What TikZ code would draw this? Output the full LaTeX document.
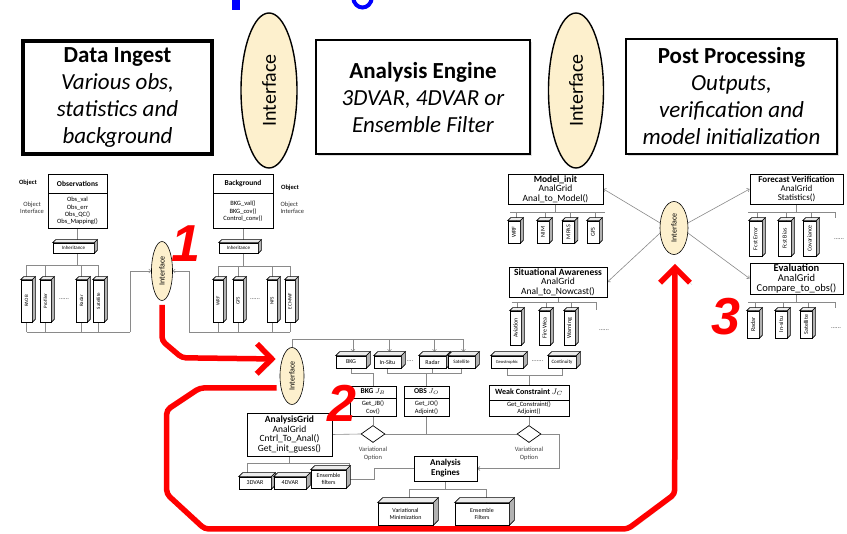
\documentclass[tikz,border=0pt]{standalone}
\usepackage{fontspec}
\setmainfont{Carlito}
\newfontfamily\numfont{Liberation Sans}
\usetikzlibrary{arrows.meta,positioning,shapes.geometric,backgrounds,calc,shadows}

\definecolor{cream}{HTML}{FDF0CD}
\definecolor{wire}{HTML}{8A8A8A}
\definecolor{hot}{HTML}{FF0000}

\newcommand{\pxfont}[2]{\fontsize{#1}{#2}\selectfont}

% 3d box: [depth]{name}{centre}{width}{height}{text}
\newcommand{\slab}[6][3]{%
  \node[slabface, minimum width=#4, minimum height=#5] (#2) at (#3) {#6};
  \filldraw[slabtop] (#2.north west) -- ++(#1pt,#1pt) -- ([shift={(#1pt,#1pt)}]#2.north east) -- (#2.north east) -- cycle;
  \filldraw[slabside] (#2.north east) -- ++(#1pt,#1pt) -- ([shift={(#1pt,#1pt)}]#2.south east) -- (#2.south east) -- cycle;
}

\begin{document}
\begin{tikzpicture}[x=1pt, y=-1pt,
    stage/.style={rectangle, draw, fill=white, line width=2pt, align=center, font=\pxfont{23}{27},
      drop shadow={opacity=0.25, shadow xshift=2pt, shadow yshift=-2pt}},
    gate/.style={ellipse, draw, fill=cream, inner sep=0pt, line width=1.4pt, font=\pxfont{20}{20}},
    port/.style={ellipse, draw, fill=cream, inner sep=0pt, line width=0.6pt, font=\pxfont{8}{9}},
    head/.style={rectangle, draw, fill=white, line width=0.7pt, inner sep=1pt, font=\bfseries\pxfont{7.5}{8}},
    body/.style={rectangle, draw, fill=white, line width=0.7pt, inner sep=1pt, align=center, font=\pxfont{6.5}{7.3}},
    card/.style={rectangle, draw, fill=white, line width=0.8pt, inner sep=0.5pt, align=center, font=\pxfont{9.5}{9.4}},
    slabface/.style={rectangle, draw, fill=white, line width=0.6pt, inner sep=0pt, align=center, font=\pxfont{6}{6.5}},
    slabtop/.style={fill=gray!15, draw, line width=0.6pt},
    slabside/.style={fill=gray!60, draw, line width=0.6pt},
    choice/.style={diamond, draw, fill=white, line width=0.7pt, inner sep=0pt, minimum width=24, minimum height=17},
    note/.style={font=\pxfont{6.5}{7.3}, align=center, text=black!75},
    link/.style={draw=wire, line width=0.6pt},
    feed/.style={link, -{Straight Barb[length=2pt,width=4pt]}},
    redline/.style={draw=hot, line width=5.5pt, rounded corners=4pt, -{Straight Barb[length=15pt,width=30pt]},
      preaction={draw=black, opacity=0.15, transform canvas={shift={(2pt,-2pt)}}}},
    tag/.style={text=hot, inner sep=0pt, font=\numfont\bfseries\itshape\pxfont{52}{52}},
  ]
\path[use as bounding box] (0,0) rectangle (847,534);
\begin{scope}[on background layer]
  \fill[white] (0,0) rectangle (847,534);
\end{scope}

% cut title
\fill[blue] (232,0) rectangle (240,10);
\draw[blue, line width=4pt] (353,-3) .. controls (354,11) and (371,11) .. (372,-3);

% three stages and the interfaces between them
\node[stage, line width=4pt, minimum width=189, minimum height=113] (ingest) at (117.5,97.5)
  {\textbf{Data Ingest}\\\textit{Various obs,}\\\textit{statistics and}\\\textit{background}};
\node[stage, minimum width=214, minimum height=114] (engine) at (423,97.5)
  {\textbf{Analysis Engine}\\\textit{3DVAR, 4DVAR or}\\\textit{Ensemble Filter}};
\node[stage, minimum width=211, minimum height=115] (post) at (731.5,96.5)
  {\textbf{Post Processing}\\\textit{Outputs,}\\\textit{verification and}\\\textit{model initialization}};
\node[gate, minimum width=56, minimum height=155] (gateA) at (269,90.5) {\rotatebox{90}{Interface}};
\node[gate, minimum width=55, minimum height=155] (gateB) at (576,90.5) {\rotatebox{90}{Interface}};

% observations
\node[head, minimum width=59, minimum height=19] (obs) at (77.5,183.5) {Observations};
\node[body, minimum width=59, minimum height=35, below=0pt of obs] (obsops) {Obs\_val\\Obs\_err\\Obs\_QC()\\Obs\_Mapping()};
\node[note, text=black, font=\bfseries\pxfont{6.5}{7}] (objA) at (28,183) {Object};
\node[note, text=black!80] (objB) at (32,208) {Object\\Interface};
\begin{scope}[slabface/.append style={font=\pxfont{5}{6}}]
\slab{inhA}{73.5,248}{41}{10}{Inheritance}
\slab{raob}{26.5,301}{11}{42}{\rotatebox{90}{RAOB}}
\slab{prof}{45.5,301}{11}{42}{\rotatebox{90}{Profiler}}
\slab{radA}{81.5,301}{11}{42}{\rotatebox{90}{Radar}}
\slab{satA}{98.5,301}{11}{42}{\rotatebox{90}{Satellite}}
\end{scope}
\node[note] (dotsA) at (64,299) {......};

% background
\node[head, minimum width=60, minimum height=19] (bkg) at (243,183.5) {Background};
\node[body, minimum width=60, minimum height=35, below=0pt of bkg] (bkgops) {BKG\_val()\\BKG\_cov()\\Control\_conv()};
\node[note, text=black, font=\bfseries\pxfont{6.5}{7}] (objC) at (290,188) {Object};
\node[note, text=black!80, anchor=west, align=left] (objD) at (277,208) {Object\\Interface};
\begin{scope}[slabface/.append style={font=\pxfont{5}{6}}]
\slab{inhB}{238.5,248}{39}{10}{Inheritance}
\slab{wrfA}{218,301}{10}{42}{\rotatebox{90}{WRF}}
\slab{gfsA}{238,301}{10}{42}{\rotatebox{90}{GFS}}
\slab{nfs}{272,301}{10}{42}{\rotatebox{90}{NFS}}
\slab{ecm}{290,301}{10}{42}{\rotatebox{90}{ECMWF}}
\end{scope}
\node[note] (dotsB) at (255,299) {......};

\node[port, minimum width=21, minimum height=59] (portA) at (162,271) {\rotatebox{90}{Interface}};

\begin{scope}[on background layer]
  \draw[link] (obsops.south) -- (obsops.south |- inhA.north);
  \draw[link] (inhA.south -| obsops.south) -- ++(0,12) coordinate (obar);
  \draw[link] (raob |- obar) -- (satA |- obar);
  \coordinate (obot) at (130,332);
  \foreach \c in {raob,prof,radA,satA}
    \draw[link] (\c |- obar) -- (\c |- obot);
  \draw[link] (raob |- obot) -- (obot);
  \draw[feed] (obot) |- (portA.west);

  \draw[link] (bkgops.south) -- (bkgops.south |- inhB.north);
  \draw[link] (inhB.south -| bkgops.south) -- ++(0,13) coordinate (bbar);
  \draw[link] (wrfA |- bbar) -- (ecm |- bbar);
  \coordinate (bbot) at (189,332);
  \foreach \c in {wrfA,gfsA,nfs,ecm}
    \draw[link] (\c |- bbar) -- (\c |- bbot);
  \draw[link] (bbot) -- (ecm |- bbot);
  \draw[feed] (bbot) |- (portA.east);
\end{scope}

% analysis engine
\node[port, minimum width=24, minimum height=57] (portB) at (292,376) {\rotatebox{90}{Interface}};
\slab[4]{bkgc}{351,362}{30}{12}{BKG}
\slab[4]{insitu}{387.5,362}{27}{12}{In-Situ}
\slab[4]{radc}{432.5,362}{27}{12}{Radar}
\slab[4]{satc}{461.5,362}{27}{12}{\pxfont{5}{6}Satellite}
\slab[4]{geo}{507,362}{32}{12}{\pxfont{4.5}{5}Geostrophic}
\slab[4]{cont}{562,362}{28}{12}{\pxfont{5}{6}Continuity}
\node[note] (dotsC) at (410,361) {....};
\node[note] (dotsD) at (537.5,361) {.......};

\node[head, minimum width=46, minimum height=12] (jb) at (373,392) {BKG $J_B$};
\node[body, minimum width=46, minimum height=18, below=0pt of jb] (jbops) {Get\_JB()\\Cov()};
\node[head, minimum width=45, minimum height=12] (jo) at (426.5,392) {OBS $J_O$};
\node[body, minimum width=45, minimum height=18, below=0pt of jo] (joops) {Get\_JO()\\Adjoint()};
\node[head, font=\bfseries\pxfont{8}{8.5}, minimum width=80, minimum height=15] (wc) at (529,392.5) {Weak Constraint $J_C$};
\node[body, minimum width=80, minimum height=15, below=0pt of wc] (wcops) {Get\_Constraint()\\Adjoint()};

\node[card, font=\pxfont{9.5}{9.7}, minimum width=85, minimum height=43] (grid) at (289.5,434.5)
  {\textbf{AnalysisGrid}\\AnalGrid\\Cntrl\_To\_Anal()\\Get\_init\_guess()};
\node[choice] (optA) at (373,434) {};
\node[choice] (optB) at (529,434) {};
\node[note, below=1pt of optA] (optAtxt) {Variational\\Option};
\node[note, below=1pt of optB] (optBtxt) {Variational\\Option};

\node[card, font=\bfseries\pxfont{9}{10}, minimum width=63, minimum height=25] (engines) at (445.5,468.5) {Analysis\\Engines};
\slab[4]{var3}{255,483}{32}{12}{3DVAR}
\slab[4]{var4}{290,483}{32}{12}{4DVAR}
\slab[4]{ensf}{328.5,479}{35}{18}{Ensemble\\filters}
\slab[5]{vmin}{405.5,514}{55}{22}{Variational\\Minimization}
\slab[5]{ensF}{482,514}{54}{22}{Ensemble\\Filters}

\begin{scope}[on background layer]
  \draw[link] (portB.north) |- ([shift={(2pt,16pt)}]satc.north);
  \foreach \c in {bkgc,insitu,radc,satc}
    \draw[feed] ([shift={(2pt,16pt)}]\c.north) -- ([shift={(2pt,4pt)}]\c.north);
  \draw[link] (bkgc.south) -- ++(0,5) -| (jb.north);
  \draw[link] (insitu.south) -- ++(0,5) -| (jo.north);
  \draw[link] (radc.south) -- ++(0,5);
  \draw[link] (satc.south) -- ++(0,5) -| (jo.north);
  \draw[link] (geo.south) -- ++(0,7) -| (wc.north);
  \draw[link] (cont.south) -- ++(0,7) -| (wc.north);
  \draw[link] (grid.east) -- (optA.west);
  \draw[link] (optA.east) -- (optB.west);
  \draw[link] (jbops.south) -- (optA.north);
  \draw[link] (joops.south) -- (joops.south |- optA.east);
  \draw[link] (wcops.south) -- (optB.north);
  \draw[feed] (optB.east) -- ++(18,0) |- (engines.east);
  \draw[feed] (engines.west) -- ++(-39,0) |- (ensf.east);
  \draw[link] (grid.south) -- ++(0,7) coordinate (gbar);
  \draw[link] ([xshift=-8pt]var3.north |- gbar) -- ([xshift=21pt]ensf.north |- gbar);
  \draw[link] ([xshift=-8pt]var3.north |- gbar) -- ([xshift=-8pt]var3.north);
  \draw[link] ([xshift=21pt]ensf.north |- gbar) -- ([xshift=21pt]ensf.north);
  \draw[link] (engines.south) -- ++(0,8) coordinate (ebar);
  \draw[link] ([xshift=4pt]vmin.north |- ebar) -- ([xshift=4pt]ensF.north |- ebar);
  \foreach \c in {vmin,ensF}
    \draw[link] ([xshift=4pt]\c.north |- ebar) -- ([xshift=4pt]\c.north);
\end{scope}

% post processing
\node[card, minimum width=95, minimum height=30] (minit) at (555.5,189) {\textbf{Model\_init}\\AnalGrid\\Anal\_to\_Model()};
\node[card, minimum width=98, minimum height=30] (aware) at (558,282) {\textbf{Situational Awareness}\\AnalGrid\\Anal\_to\_Nowcast()};
\node[card, font=\pxfont{9}{9.2}, minimum width=93, minimum height=30] (verif) at (796.5,189) {\textbf{Forecast Verification}\\AnalGrid\\Statistics()};
\node[card, font=\pxfont{10.5}{9.9}, minimum width=93, minimum height=31] (evalu) at (796.5,278.5) {\textbf{Evaluation}\\AnalGrid\\Compare\_to\_obs()};
\node[port, minimum width=28, minimum height=53] (portC) at (674,228) {\rotatebox{90}{Interface}};

\begin{scope}[slabface/.append style={font=\pxfont{6}{6.5}}]
\slab{wrfB}{514,232}{12}{22}{\rotatebox{90}{WRF}}
\slab{nim}{543,232}{12}{22}{\rotatebox{90}{NIM}}
\slab{mpas}{568.5,232}{12}{22}{\rotatebox{90}{MPAS}}
\slab{gfsB}{593,232}{12}{22}{\rotatebox{90}{GFS}}
\slab{avia}{515.5,328}{11}{34}{\rotatebox{90}{Aviation}}
\slab{fire}{544.5,328}{11}{34}{\rotatebox{90}{Fire Wea}}
\slab{warn}{569.5,328}{11}{34}{\rotatebox{90}{Warning}}
\slab{ferr}{755.5,238.5}{13}{35}{\rotatebox{90}{Fcst Error}}
\slab{fbias}{784.5,238.5}{13}{35}{\rotatebox{90}{Fcst Bias}}
\slab{fcov}{809.5,238.5}{13}{35}{\rotatebox{90}{Covariance}}
\slab{radB}{753,324.5}{12}{27}{\rotatebox{90}{Radar}}
\slab{insB}{781,324.5}{12}{27}{\rotatebox{90}{In-situ}}
\slab{satB}{806,324.5}{12}{27}{\rotatebox{90}{Satellite}}
\end{scope}
\node[note] (dotsE) at (604,330) {......};
\node[note] (dotsF) at (839,239) {......};
\node[note] (dotsG) at (836,328) {......};

\begin{scope}[on background layer]
  \draw[link] (minit.south) -- ++(0,8) coordinate (mbar);
  \draw[link] ([xshift=-4pt]wrfB.north |- mbar) -- ([xshift=12pt]gfsB.north |- mbar);
  \foreach \c in {wrfB,nim,mpas,gfsB}
    \draw[link] ([xshift=2pt]\c.north |- mbar) -- ([xshift=2pt]\c.north);
  \draw[link] (aware.south) -- ++(0,5) coordinate (sbar);
  \draw[link] ([xshift=-4pt]avia.north |- sbar) -- ([xshift=27pt]warn.north |- sbar) -- ++(0,8);
  \foreach \c in {avia,fire,warn}
    \draw[link] ([xshift=2pt]\c.north |- sbar) -- ([xshift=2pt]\c.north);
  \draw[link] (verif.south) -- ++(0,8) coordinate (fbar);
  \draw[link] ([xshift=-7.5pt]ferr.north |- fbar) -- ([xshift=25.5pt]fcov.north |- fbar) -- ++(0,6);
  \foreach \c in {ferr,fbias,fcov}
    \draw[link] ([xshift=2pt]\c.north |- fbar) -- ([xshift=2pt]\c.north);
  \draw[link] (evalu.south) -- ++(0,8) coordinate (vbar);
  \draw[link] ([xshift=-5pt]radB.north |- vbar) -- ([xshift=29pt]satB.north |- vbar) -- ++(0,6);
  \foreach \c in {radB,insB,satB}
    \draw[link] ([xshift=2pt]\c.north |- vbar) -- ([xshift=2pt]\c.north);
  \draw[feed] (portC.160) -- (minit.east);
  \draw[feed] (portC.200) -- (aware.east);
  \draw[feed] (portC.20) -- (verif.west);
  \draw[feed] (portC.340) -- (evalu.west);
\end{scope}

% the three hand-offs
\draw[redline] ([yshift=-4pt]portA.south) -- ++(0,36) -- ++(20,17) -- ($(portB.west)+(-4,-17)$);
\draw[redline] ($(portB.west)+(-3,12)$) -- ++(-77,0) -- ++(-33,22) -- ++(0,84) -- ++(38,35)
  -- ++(423,0) -- ++(47,-35) -- ($(portC.south)+(1,9)$);
\node[tag] (one) at (186,244) {1};
\node[tag] (two) at (342,403) {2};
\node[tag] (three) at (726,317) {3};
\end{tikzpicture}
\end{document}
